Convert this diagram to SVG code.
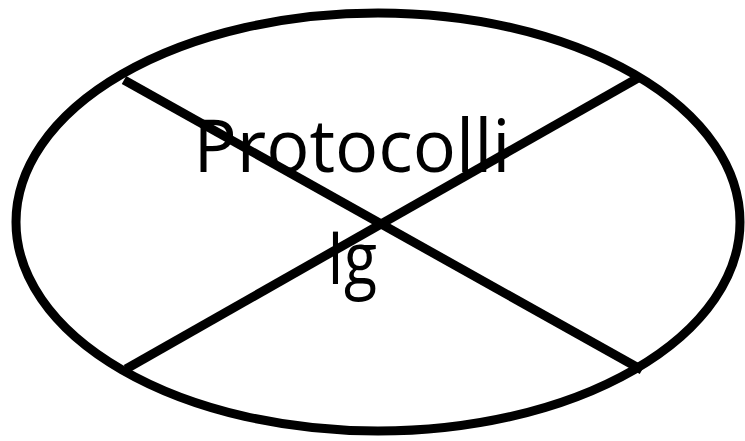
<svg xmlns="http://www.w3.org/2000/svg" width="745" height="441" viewBox="0 0 745 441">
  <style>
    .shape { fill: none; stroke: #000; stroke-width: 9; }
    .label { font-family: "Open Sans", "Liberation Sans", sans-serif; font-size: 74px; fill: #000; text-anchor: middle; }
  </style>
  <rect width="745" height="441" fill="#fff"/>
  <g id="node-protocolli">
    <ellipse class="shape" cx="378" cy="222" rx="362" ry="209"/>
    <text class="label" x="352" y="172" textLength="317" lengthAdjust="spacingAndGlyphs">Protocolli</text>
    <text class="label" x="352" y="284" textLength="50" lengthAdjust="spacingAndGlyphs">Ig</text>
  </g>
  <g id="connectors">
    <line class="shape" x1="124" y1="80" x2="642" y2="370"/>
    <line class="shape" x1="126" y1="369" x2="638" y2="78"/>
  </g>
</svg>
